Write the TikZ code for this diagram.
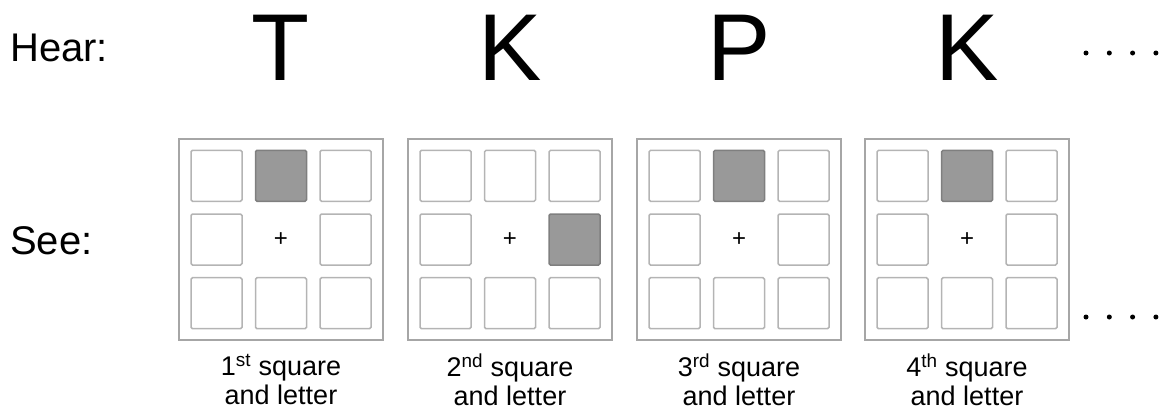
\documentclass[tikz,border=0pt]{standalone}
\usepackage{fontspec}
\setmainfont{Liberation Sans}
\usetikzlibrary{positioning}
\definecolor{cellEdge}{HTML}{B4B4B4}
\definecolor{frameEdge}{HTML}{A6A6A6}
\definecolor{cueFill}{HTML}{999999}
\definecolor{cueEdge}{HTML}{7F7F7F}

\begin{document}
\begin{tikzpicture}[x=1pt, y=-1pt,
      frame/.style={draw=frameEdge, line width=1.5pt, inner sep=0pt,
        minimum width=204pt, minimum height=201pt},
      cell/.style={draw=cellEdge, line width=1.5pt, rounded corners=1.5pt,
        inner sep=0pt, minimum size=51pt},
      cue/.style={cell, draw=cueEdge, fill=cueFill},
      letter/.style={font=\fontsize{95}{95}\selectfont, anchor=base, inner sep=0pt},
      rowlabel/.style={font=\fontsize{40}{40}\selectfont, anchor=base west, inner sep=0pt},
      caption/.style={font=\fontsize{27}{29}\selectfont, align=center, inner sep=0pt},
      fixation/.style={font=\fontsize{24}{24}\selectfont, inner sep=0pt},
      dot/.style={circle, fill=black, inner sep=0pt, minimum size=5pt}]
    \useasboundingbox (0,0) rectangle (1167,413);

    \node[rowlabel] (hear) at (10,61) {Hear:};
    \node[rowlabel] (see) at (10,254) {See:};

    \foreach \p/\px/\ltr/\cuecol/\cuerow/\ord in {1/281/T/2/1/st, 2/510/K/3/2/nd, 3/739/P/2/1/rd, 4/967/K/2/1/th}{
      \node[letter] (letter\p) at (\px,80) {\ltr};
      \node[frame] (panel\p) at (\px,239.5) {};
      \foreach \c in {1,2,3}{
        \foreach \r in {1,2,3}{
          \ifnum\c\r=22
            \node[fixation] (plus\p) at (panel\p) {+};
          \else
            \ifnum\c\r=\cuecol\cuerow\relax \def\kind{cue}\else\def\kind{cell}\fi
            \node[\kind] (c\p-\c\r) at ([shift={({(\c-2)*64.5},{(\r-2)*63.7})}]panel\p) {};
          \fi
        }
      }
      \node[caption, below=13pt of panel\p] (cap\p) {\p\textsuperscript{\ord} square\\and letter};
    }

    % trailing dots
    \foreach \k in {0,...,3}{
      \node[dot] (topdot\k) at (1086+23.3*\k,53) {};
      \node[dot] (lowdot\k) at (1086+23.3*\k,317) {};
    }
  \end{tikzpicture}
\end{document}
